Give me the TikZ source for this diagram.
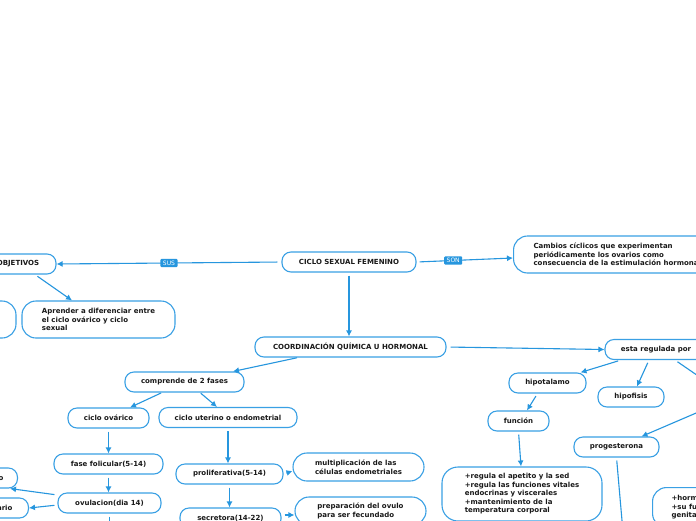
\documentclass[tikz,border=0pt]{standalone}
\usepackage{fontspec}
\setmainfont{DejaVu Sans}
\usetikzlibrary{arrows.meta,calc}
\definecolor{bord}{RGB}{58,160,228}
\definecolor{lnk}{RGB}{38,150,222}
\definecolor{txt}{RGB}{25,25,25}
\begin{document}
\begin{tikzpicture}[x=1pt,y=-1pt,
  mbox/.style={draw=bord,line width=1.1pt,fill=white,rounded corners=9pt,inner sep=0pt,minimum height=20pt,font=\fontsize{7}{8.5}\selectfont\bfseries,text=txt,align=center},
  bigbox/.style={mbox,rounded corners=14pt,align=left},
  arr/.style={draw=lnk,line width=1.1pt,-{Latex[length=6pt,width=6pt]},shorten <=3pt},
  plainln/.style={draw=lnk,line width=1.1pt,shorten <=3pt},
  tag/.style={fill=lnk,text=white,font=\fontsize{6}{7}\selectfont,inner xsep=2.5pt,inner ysep=1.8pt,rounded corners=1pt}
]
\useasboundingbox (0,0) rectangle (696,520);
\fill[white] (0,0) rectangle (696,520);
\begin{scope}
\clip (0,0) rectangle (696,520);
% nodes
\node[mbox,minimum width=76pt] (obj) at (18,264) {OBJETIVOS};
\node[bigbox,minimum width=116pt,minimum height=37pt] (left1) at (-42,319.5) {};
\node[bigbox,minimum width=153pt,minimum height=37pt] (apr) at (98.5,319.5) {Aprender a diferenciar entre\\el ciclo ovárico y ciclo\\sexual};
\node[mbox,minimum width=134pt] (csf) at (349,262) {CICLO SEXUAL FEMENINO};
\node[bigbox,anchor=west,inner xsep=20pt,minimum height=37pt] (camb) at (513,254.5) {Cambios cíclicos que experimentan\\periódicamente los ovarios como\\consecuencia de la estimulación hormonal};
\node[mbox,minimum width=191pt] (coord) at (350.5,347) {COORDINACIÓN QUÍMICA U HORMONAL};
\node[mbox,minimum width=102pt] (esta) at (656,349.5) {esta regulada por};
\node[mbox,minimum width=119pt] (comp) at (184.5,382) {comprende de 2 fases};
\node[mbox,minimum width=81pt] (cov) at (108.5,418) {ciclo ovárico};
\node[mbox,minimum width=138pt] (cut) at (228,417.5) {ciclo uterino o endometrial};
\node[mbox,minimum width=109pt] (fol) at (108.5,464) {fase folicular(5-14)};
\node[mbox,minimum width=103pt] (ovu) at (109.5,503) {ovulacion(dia 14)};
\node[mbox,anchor=east,inner xsep=14pt] (la) at (18,478) {cuerpo lúteo};
\node[mbox,anchor=east,inner xsep=16pt] (lb) at (29,508) {ovario};
\node[mbox,minimum width=107pt] (prol) at (229.5,474) {proliferativa(5-14)};
\node[mbox,minimum width=101pt] (secr) at (230.5,518) {secretora(14-22)};
\node[bigbox,minimum width=131pt,minimum height=28pt] (mult) at (358.5,467) {multiplicación de las\\células endometriales};
\node[bigbox,minimum width=131pt,minimum height=28pt] (prep) at (360.5,511) {preparación del ovulo\\para ser fecundado};
\node[mbox,minimum width=77pt] (hipot) at (547.5,383) {hipotalamo};
\node[mbox,minimum width=66pt] (hipof) at (631,397) {hipofisis};
\node[mbox,minimum width=61pt] (func) at (518.5,421) {función};
\node[mbox,minimum width=85pt] (prog) at (616.5,447) {progesterona};
\node[bigbox,rounded corners=16pt,minimum width=160pt,minimum height=54pt] (ftext) at (522,494) {+regula el apetito y la sed\\+regula las funciones vitales\\endocrinas y viscerales\\+mantenimiento de la\\temperatura corporal};
\node[bigbox,anchor=north west,inner xsep=19pt,inner ysep=6pt,minimum height=40pt] (br) at (652,487) {+hormonas\\+su función\\genitales};
% free ends off the canvas
\coordinate (offA) at (720,391);
\coordinate (offB) at (730,398.5);
\coordinate (offC) at (623.7,540);
\coordinate (offD) at (109.5,540);
% connectors
\draw[arr,shorten <=4pt] (csf.west) -- node[tag] {SUS} (obj.east);
\draw[arr] (csf.east) -- node[tag,pos=0.38] {SON} ([yshift=-3.5pt]camb.west);
\draw[arr] (csf.south) -- (csf.south |- coord.north);
\draw[arr,shorten <=4pt] (coord.east) -- (esta.west);
\draw[arr] ([xshift=17pt]obj.south) -- ([xshift=-26.5pt]apr.north);
\draw[arr] ([xshift=-18pt]obj.south) -- ([xshift=22pt]left1.north);
\draw[arr,shorten <=1pt] ([xshift=-52.5pt]coord.south) -- ([xshift=48.5pt]comp.north);
\draw[arr,shorten <=1pt] ([xshift=-22.5pt]comp.south) -- ([xshift=21.5pt]cov.north);
\draw[arr,shorten <=1pt] ([xshift=15.5pt]comp.south) -- ([xshift=-11pt]cut.north);
\draw[arr] (cov.south) -- (cov.south |- fol.north);
\draw[arr] (fol.south) -- (fol.south |- ovu.north);
\draw[plainln] (ovu.south) -- (offD);
\draw[arr] ([yshift=8pt]ovu.west) -- ([xshift=-8pt]la.south east);
\draw[arr] ([yshift=-2pt]ovu.west) -- (lb.east);
\draw[arr] (cut.south) -- (cut.south |- prol.north);
\draw[arr] (prol.south) -- (prol.south |- secr.north);
\draw[arr] (prol.east) -- ([yshift=-4pt]mult.west);
\draw[arr] ([yshift=3pt]secr.east) -- ([yshift=-4pt]prep.west);
\draw[arr] ([xshift=-35pt]esta.south) -- ([xshift=33pt]hipot.north);
\draw[arr] ([xshift=-7pt]esta.south) -- ([xshift=6pt]hipof.north);
\draw[plainln] ([xshift=19pt]esta.south) -- (offA);
\draw[arr] (offB) -- ([xshift=25pt]prog.north);
\draw[plainln] (prog.south) -- (offC);
\draw[arr] ([xshift=-10pt]hipot.south) -- ([xshift=8.5pt]func.north);
\draw[arr] (func.south) -- ([xshift=-1pt]ftext.north);
\end{scope}
\end{tikzpicture}
\end{document}
